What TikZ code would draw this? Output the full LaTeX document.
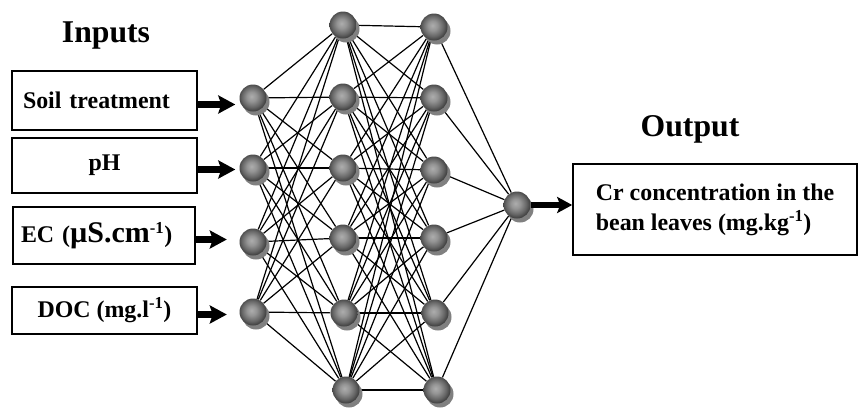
\documentclass[tikz,border=0pt]{standalone}
\usepackage{fontspec}
\setmainfont{Liberation Serif}
\usetikzlibrary{positioning}
\usetikzlibrary{arrows.meta}
\usetikzlibrary{shadows}
\usetikzlibrary{backgrounds}
\newcommand{\nnboxfont}{\fontsize{23.9}{30}\selectfont\bfseries}
\newcommand{\nntitlefont}{\fontsize{31.7}{38}\selectfont\bfseries}
\pgfdeclareradialshading{nnball}{\pgfpoint{-3bp}{3bp}}{color(0bp)=(black!32); color(9bp)=(black!42); color(19bp)=(black!60); color(28bp)=(black!80); color(38bp)=(black!90); color(50bp)=(black!92)}
\tikzset{
        neuron/.style={circle,minimum size=27pt,inner sep=0pt,shading=nnball,
                drop shadow={shadow xshift=3pt,shadow yshift=-4pt,fill=gray,opacity=1}},
        inbox/.style={draw,line width=1.6pt,minimum width=185pt,inner sep=0pt,font=\nnboxfont},
        outbox/.style={draw,line width=1.6pt,minimum width=284pt,minimum height=91pt,inner sep=0pt,align=left,font=\nnboxfont},
        link/.style={line width=1.2pt},
        inarrow/.style={line width=7pt,-{Stealth[length=17pt,width=18pt,inset=3pt]}},
        outarrow/.style={line width=6pt,-{Stealth[length=15pt,width=16pt,inset=3pt]}},
        headtext/.style={anchor=base,font=\nntitlefont},
        }

\begin{document}
\begin{tikzpicture}[x=1pt,y=-1pt]
			\useasboundingbox (0,0) rectangle (858,410);

			% titles.....................
			\node [headtext] (intitle) at (106,42) {Inputs};
			\node [headtext] (outtitle) at (690,136) {Output};

			% input boxes.....................
			\node [inbox,minimum height=59pt,inner xsep=11pt,text width=163pt,align=left] (soil) at (104.5,100.5) {Soil treatment};
			\node [inbox,minimum height=55pt] (ph) at (104.5,165.5) {pH};
			\node [inbox,minimum width=182pt,minimum height=57pt,inner xsep=8pt,text width=166pt,align=left] (ec) at (104,235.5) {EC ({\fontsize{30}{30}\selectfont µS.cm}\textsuperscript{-1})};
			\node [inbox,minimum height=47pt] (doc) at (104.5,310.5) {DOC (mg.l\textsuperscript{-1})};

			% output box.....................
			\node [outbox] (crbox) at (715,209.5) {Cr concentration in the\\bean leaves (mg.kg\textsuperscript{-1})};

			% input layer.....................
			\node [neuron] (i1) at (253,98) {};
			\node [neuron] (i2) at (253,168) {};
			\node [neuron] (i3) at (253,242) {};
			\node [neuron] (i4) at (253,312) {};

			% first hidden layer.....................
			\node [neuron] (a1) at (343,25) {};
			\node [neuron] (a2) at (343,97) {};
			\node [neuron] (a3) at (343,168) {};
			\node [neuron] (a4) at (343,238) {};
			\node [neuron] (a5) at (344,313) {};
			\node [neuron] (a6) at (346,390) {};

			% second hidden layer.....................
			\node [neuron] (b1) at (434,27) {};
			\node [neuron] (b2) at (434,98) {};
			\node [neuron] (b3) at (434,170) {};
			\node [neuron] (b4) at (434,238) {};
			\node [neuron] (b5) at (435,313) {};
			\node [neuron] (b6) at (437,390) {};

			% output neuron.....................
			\node [neuron] (o1) at (517,205) {};

			% links between layers.....................
			\begin{scope}[on background layer]
				\foreach \i in {1,...,4} \foreach \j in {1,...,6} \draw [link] (i\i) -- (a\j);
				\foreach \i in {1,...,6} \foreach \j in {1,...,6} \draw [link] (a\i) -- (b\j);
				\foreach \i in {1,...,6} \draw [link] (b\i) -- (o1);
			\end{scope}

			% arrows into and out of the net.....................
			\draw [inarrow,shorten >=4pt] ([yshift=-4pt]soil.east) -- ([yshift=-4pt]soil.east -| i1.west);
			\draw [inarrow,shorten >=4pt] ([yshift=-4pt]ph.east) -- ([yshift=-4pt]ph.east -| i2.west);
			\draw [inarrow,shorten >=12.5pt] ([yshift=-4pt]ec.east) -- ([yshift=-4pt]ec.east -| i3.west);
			\draw [inarrow,shorten >=12.5pt] ([yshift=-4pt]doc.east) -- ([yshift=-4pt]doc.east -| i4.west);
			\draw [outarrow] (o1.east) -- (o1.east -| crbox.west);
		\end{tikzpicture}
\end{document}
